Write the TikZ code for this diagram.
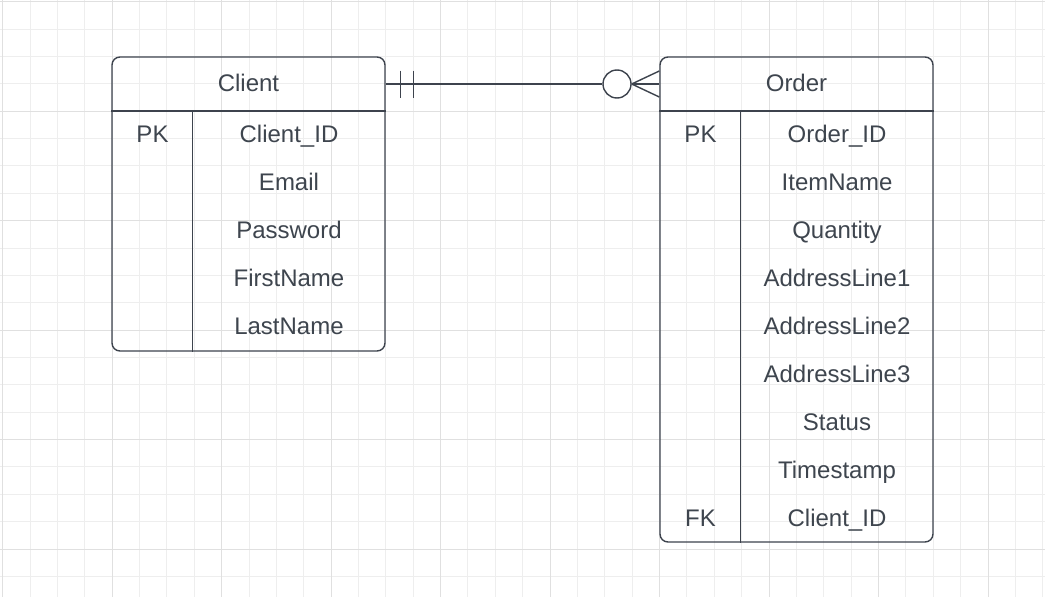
\documentclass[tikz,border=0pt]{standalone}
\usepackage{fontspec}
\setmainfont{Liberation Sans}
\usetikzlibrary{positioning}
\definecolor{erline}{HTML}{3D434D}
\definecolor{ertext}{HTML}{3E454E}
\definecolor{gridminor}{HTML}{EEEEEE}
\definecolor{gridmajor}{HTML}{E0E0E0}
\tikzset{
  table/.style={draw=erline, line width=1.4pt, rounded corners=8pt,
    minimum width=273pt, inner sep=0pt},
  head/.style={minimum width=273pt, minimum height=54pt, inner sep=0pt,
    text=ertext, font=\fontsize{24}{28}\selectfont},
  cell/.style={inner sep=0pt, text height=17pt, text depth=0pt,
    text=ertext, font=\fontsize{24}{28}\selectfont},
  conn/.style={draw=erline, line width=1.4pt},
  crowcircle/.style={conn, circle, minimum size=28pt, inner sep=0pt, fill=white}
}
\begin{document}
\begin{tikzpicture}[x=1pt,y=-1pt]
\useasboundingbox (0,0) rectangle (1045,597);
\fill[white] (0,0) rectangle (1045,597);
% background grid
\foreach \i in {0,...,38}
  \draw[gridminor, line width=1pt] (2.7+27.37*\i,0) -- (2.7+27.37*\i,597);
\foreach \j in {0,...,21}
  \draw[gridminor, line width=1pt] (0,1.7+27.37*\j) -- (1045,1.7+27.37*\j);
\foreach \i in {0,4,...,36}
  \draw[gridmajor, line width=1pt] (2.7+27.37*\i,0) -- (2.7+27.37*\i,597);
\foreach \j in {0,4,...,20}
  \draw[gridmajor, line width=1pt] (0,1.7+27.37*\j) -- (1045,1.7+27.37*\j);

% Client table
\node[table, minimum height=294pt] (client) at (248.5,204) {};
\node[head] (clienthead) at (248.5,83) {Client};
\draw[conn] (client.west |- 0,111) -- (client.east |- 0,111);
\draw[conn] ([xshift=81pt]client.north west |- 0,111) -- ([xshift=81pt]client.south west);
\node[cell] (clientpk) at (152.5,134) {PK};
\foreach \f [count=\k] in {Client\_ID,Email,Password,FirstName,LastName}
  \node[cell] (clientf\k) at (289,86+48*\k) {\f};

% Order table
\node[table, minimum height=485pt] (order) at (796.5,299.5) {};
\node[head] (orderhead) at (796.5,83) {Order};
\draw[conn] (order.west |- 0,111) -- (order.east |- 0,111);
\draw[conn] ([xshift=81pt]order.north west |- 0,111) -- ([xshift=81pt]order.south west);
\node[cell] (orderpk) at (700.5,134) {PK};
\node[cell] (orderfk) at (700.5,518) {FK};
\foreach \f [count=\k] in {Order\_ID,ItemName,Quantity,AddressLine1,AddressLine2,
    AddressLine3,Status,Timestamp,Client\_ID}
  \node[cell] (orderf\k) at (837,86+48*\k) {\f};

% relationship: one and only one -- zero or many
\coordinate (clientend) at (client.east |- 0,84);
\coordinate (orderend) at (order.west |- 0,84);
\node[crowcircle] (crow) at (617,84) {};
\draw[conn] (clientend) -- (crow.west);
\draw[conn] (crow.east) -- (orderend);
\draw[conn] ([xshift=15pt,yshift=13.5pt]clientend) -- ++(0,27);
\draw[conn] ([xshift=28pt,yshift=13.5pt]clientend) -- ++(0,27);
\draw[conn] (crow.east) -- ([yshift=13pt]orderend);
\draw[conn] (crow.east) -- ([yshift=-13pt]orderend);
\end{tikzpicture}
\end{document}
